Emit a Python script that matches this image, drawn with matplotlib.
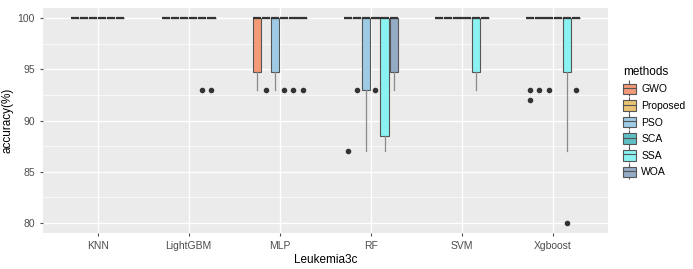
import matplotlib
matplotlib.use("Agg")
import matplotlib.pyplot as plt
from matplotlib.patches import Patch
from matplotlib.lines import Line2D

classifiers = ["KNN", "LightGBM", "MLP", "RF", "SVM", "Xgboost"]
methods = ["GWO", "Proposed", "PSO", "SCA", "SSA", "WOA"]
colores = ["#F39A78", "#E9C272", "#9DCBE6", "#5EBFC4", "#8AF2F0", "#94ABC6"]

# accuracy of 10 runs, one list per classifier (same order as classifiers)
gwo = [
    [100, 100, 100, 100, 100, 100, 100, 100, 100, 100],
    [100, 100, 100, 100, 100, 100, 100, 100, 100, 100],
    [93, 93, 93, 100, 100, 100, 100, 100, 100, 100],
    [87, 100, 100, 100, 100, 100, 100, 100, 100, 100],
    [100, 100, 100, 100, 100, 100, 100, 100, 100, 100],
    [92, 93, 100, 100, 100, 100, 100, 100, 100, 100],
]
proposed = [
    [100, 100, 100, 100, 100, 100, 100, 100, 100, 100],
    [100, 100, 100, 100, 100, 100, 100, 100, 100, 100],
    [93, 100, 100, 100, 100, 100, 100, 100, 100, 100],
    [93, 100, 100, 100, 100, 100, 100, 100, 100, 100],
    [100, 100, 100, 100, 100, 100, 100, 100, 100, 100],
    [93, 100, 100, 100, 100, 100, 100, 100, 100, 100],
]
pso = [
    [100, 100, 100, 100, 100, 100, 100, 100, 100, 100],
    [100, 100, 100, 100, 100, 100, 100, 100, 100, 100],
    [93, 93, 93, 100, 100, 100, 100, 100, 100, 100],
    [87, 93, 93, 93, 100, 100, 100, 100, 100, 100],
    [100, 100, 100, 100, 100, 100, 100, 100, 100, 100],
    [93, 100, 100, 100, 100, 100, 100, 100, 100, 100],
]
sca = [
    [100, 100, 100, 100, 100, 100, 100, 100, 100, 100],
    [100, 100, 100, 100, 100, 100, 100, 100, 100, 100],
    [93, 100, 100, 100, 100, 100, 100, 100, 100, 100],
    [93, 100, 100, 100, 100, 100, 100, 100, 100, 100],
    [100, 100, 100, 100, 100, 100, 100, 100, 100, 100],
    [100, 100, 100, 100, 100, 100, 100, 100, 100, 100],
]
ssa = [
    [100, 100, 100, 100, 100, 100, 100, 100, 100, 100],
    [93, 100, 100, 100, 100, 100, 100, 100, 100, 100],
    [93, 100, 100, 100, 100, 100, 100, 100, 100, 100],
    [87, 87, 87, 93, 100, 100, 100, 100, 100, 100],
    [93, 93, 93, 100, 100, 100, 100, 100, 100, 100],
    [80, 87, 93, 100, 100, 100, 100, 100, 100, 100],
]
woa = [
    [100, 100, 100, 100, 100, 100, 100, 100, 100, 100],
    [93, 100, 100, 100, 100, 100, 100, 100, 100, 100],
    [93, 100, 100, 100, 100, 100, 100, 100, 100, 100],
    [93, 93, 93, 100, 100, 100, 100, 100, 100, 100],
    [100, 100, 100, 100, 100, 100, 100, 100, 100, 100],
    [93, 100, 100, 100, 100, 100, 100, 100, 100, 100],
]
datos = [gwo, proposed, pso, sca, ssa, woa]

plt.rcParams["font.family"] = ["Liberation Sans", "DejaVu Sans"]

fig = plt.figure(figsize=(6.93, 2.69), dpi=100)
ax = fig.add_axes([0.062, 0.134, 0.815, 0.836])
ax.set_facecolor("#EBEBEB")

slot = 0.1
for j, serie in enumerate(datos):
    posiciones = [i + (j - 2.5) * slot for i in range(len(classifiers))]
    ax.boxplot(serie, positions=posiciones, widths=slot * 0.9, whis=1.5,
               patch_artist=True, showcaps=False, manage_ticks=False,
               boxprops=dict(facecolor=colores[j], edgecolor="#555555", linewidth=0.8),
               medianprops=dict(color="#333333", linewidth=1.6),
               whiskerprops=dict(color="#8A8A8A", linewidth=0.9),
               flierprops=dict(marker="o", markersize=3, markerfacecolor="#333333",
                               markeredgecolor="#333333"),
               zorder=3)

ax.set_xlim(-0.6, len(classifiers) - 0.4)
ax.set_ylim(79, 101)
ax.set_xticks(range(len(classifiers)))
ax.set_xticklabels(classifiers)
ax.set_yticks([80, 85, 90, 95, 100])
ax.set_yticks([82.5, 87.5, 92.5, 97.5], minor=True)
ax.grid(which="major", color="white", linewidth=1.0, zorder=0)
ax.grid(which="minor", axis="y", color="white", linewidth=0.5, zorder=0)
ax.set_axisbelow(True)
for s in ax.spines.values():
    s.set_visible(False)
ax.tick_params(which="major", colors="#4D4D4D", labelsize=7.5, length=2.5, width=0.8)
ax.tick_params(which="minor", length=0)
ax.set_xlabel("Leukemia3c", fontsize=8.5, labelpad=2)
ax.set_ylabel("accuracy(%)", fontsize=8.5)
ax.yaxis.set_label_coords(-0.053, 0.5)

# legend keys look like little boxplots (box + median + whisker)
handles = [(Patch(facecolor="#F2F2F2", edgecolor="none"),
            Line2D([0.5], [0.5], color="#555555", marker="|", markersize=12,
                   linestyle="none", markeredgewidth=0.8),
            Patch(facecolor=c, edgecolor="#555555", linewidth=0.8),
            Line2D([], [], color="#555555", linewidth=0.8)) for c in colores]
leg = fig.legend(handles, methods, title="methods", loc="upper left",
                 bbox_to_anchor=(0.885, 0.79), frameon=False, fontsize=7.5,
                 title_fontsize=8.5, handlelength=1.3, handleheight=1.2,
                 labelspacing=0.55, handletextpad=0.5)
leg._legend_box.align = "left"

plt.savefig("out.png", dpi=100)
